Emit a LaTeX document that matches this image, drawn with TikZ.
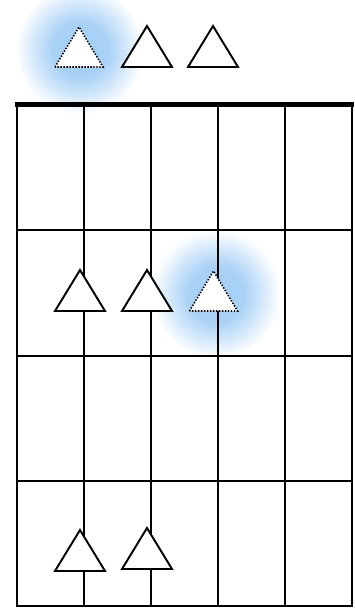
\documentclass[tikz,border=0pt]{standalone}
\usetikzlibrary{calc}
\definecolor{glowB}{RGB}{160,205,245}
\pgfdeclareradialshading{glowshade}{\pgfpointorigin}{color(0bp)=(glowB); color(10bp)=(glowB!90!white); color(16bp)=(glowB!50!white); color(23bp)=(white); color(50bp)=(white)}
\tikzset{gridline/.style={line width=1.1pt},
  tri/.style={line width=1.1pt, fill=white, line join=miter},
  tridot/.style={line width=0.9pt, fill=white, dash pattern=on 0.8pt off 0.9pt}}
\begin{document}
\begin{tikzpicture}[x=0.02cm, y=-0.02cm]
\useasboundingbox (0,0) rectangle (355,609);
% ====== glow behind the dotted triangles ======
\shade[shading=glowshade] (80,50) circle (1.4cm);
\shade[shading=glowshade] (216,294) circle (1.4cm);
% ====== board: 5 columns, 4 rows ======
\draw[gridline] (17,105) rectangle (352,606);
\foreach \gx in {84,151,218,285}
  \draw[gridline] (\gx,105) -- (\gx,606);
\foreach \gy in {230,356,481}
  \draw[gridline] (17,\gy) -- (352,\gy);
\draw[line width=2.9pt] (15,104.5) -- (354,104.5);
% ====== solid triangles (apex x / base y) ======
\foreach \tx/\ty in {147/67, 213/67, 80/311, 147/311, 80/571, 147/569}
  \draw[tri] (\tx-25,\ty) -- (\tx,\ty-41) -- (\tx+25,\ty) -- cycle;
% ====== dotted triangles ======
\foreach \tx/\ty in {79/67, 213.5/311}
  \draw[tridot] (\tx-24,\ty) -- (\tx,\ty-40) -- (\tx+24,\ty) -- cycle;
\end{tikzpicture}
\end{document}
